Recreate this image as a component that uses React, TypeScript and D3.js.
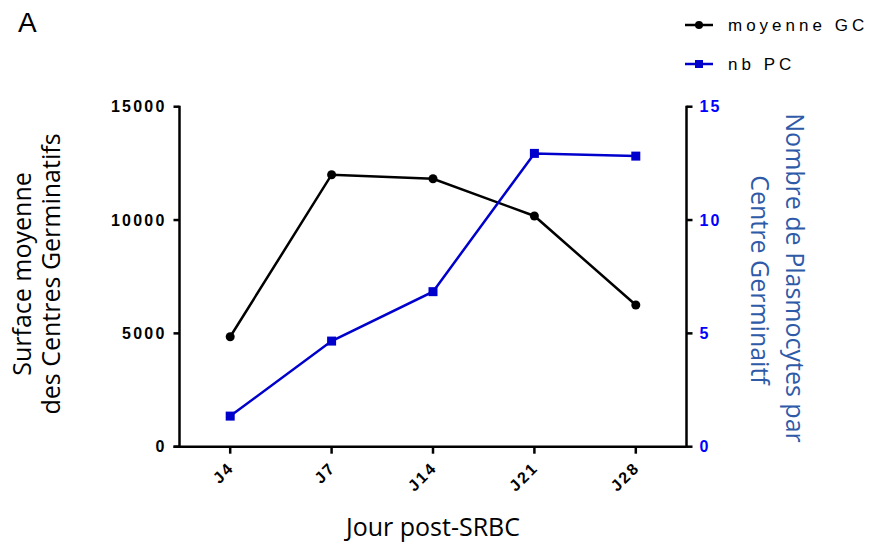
import React from "react";
import * as d3 from "d3";

const categories = ["J4", "J7", "J14", "J21", "J28"];
const surfaceGC = [4850, 12000, 11820, 10180, 6250];
const nbPC = [1.35, 4.66, 6.84, 12.94, 12.82];
const leftTicks = [0, 5000, 10000, 15000];
const rightTicks = [0, 5, 10, 15];
const seriesNames = ["moyenne GC", "nb PC"];

const W = 873;
const H = 548;
const xLeft = 179.5;
const xRight = 686.5;
const yBottom = 446.7;
const yTop = 106.7;

const BLUE_LINE = "#0000cc";
const BLUE_TEXT = "#0000ff";
const TITLE_BLUE = "#2e5aa8";
const titleFont = "'Open Sans', sans-serif";
const tickFont = "'Liberation Sans', Arial, sans-serif";

export default function App() {
  const x = d3.scalePoint<string>().domain(categories).range([xLeft, xRight]).padding(0.5);
  const yL = d3.scaleLinear().domain([0, 15000]).range([yBottom, yTop]);
  const yR = d3.scaleLinear().domain([0, 15]).range([yBottom, yTop]);

  const lineL = d3
    .line<number>()
    .x((_, i) => x(categories[i]) as number)
    .y((d) => yL(d));
  const lineR = d3
    .line<number>()
    .x((_, i) => x(categories[i]) as number)
    .y((d) => yR(d));

  return (
    <svg
      width={W}
      height={H}
      style={{ position: "absolute", left: 0, top: 0, background: "#fff" }}
    >
      <rect x={0} y={0} width={W} height={H} fill="#fff" />
      <text x={18} y={32} fontFamily="'Liberation Sans', Arial, sans-serif" fontSize={28} fill="#000">
        A
      </text>

      {/* axes */}
      <g stroke="#000" strokeWidth={2.5} fill="none">
        <line x1={xLeft} y1={yTop - 1} x2={xLeft} y2={yBottom + 1} />
        <line x1={xRight} y1={yTop - 1} x2={xRight} y2={yBottom + 1} />
        <line x1={xLeft - 6} y1={yBottom} x2={xRight} y2={yBottom} />
      </g>

      {/* left ticks */}
      {leftTicks.map((t) => (
        <g key={"l" + t}>
          <line x1={xLeft - 6} x2={xLeft} y1={yL(t)} y2={yL(t)} stroke="#000" strokeWidth={2.5} />
          <text
            x={xLeft - 13}
            y={yL(t)}
            dy="0.36em"
            textAnchor="end"
            fontFamily={tickFont}
            fontWeight="bold"
            fontSize={16}
            letterSpacing={2.2}
            fill="#000"
          >
            {t}
          </text>
        </g>
      ))}

      {/* right ticks */}
      {rightTicks.map((t) => (
        <g key={"r" + t}>
          <line x1={xRight} x2={xRight + 6} y1={yR(t)} y2={yR(t)} stroke="#000" strokeWidth={2.5} />
          <text
            x={xRight + 13}
            y={yR(t)}
            dy="0.36em"
            textAnchor="start"
            fontFamily={tickFont}
            fontWeight="bold"
            fontSize={16}
            letterSpacing={2.2}
            fill={BLUE_TEXT}
          >
            {t}
          </text>
        </g>
      ))}

      {/* x ticks */}
      {categories.map((c) => {
        const cx = x(c) as number;
        return (
          <g key={"x" + c}>
            <line x1={cx} x2={cx} y1={yBottom} y2={yBottom + 7} stroke="#000" strokeWidth={2.5} />
            <text
              transform={`translate(${cx + 5},${yBottom + 22}) rotate(-45)`}
              textAnchor="end"
              fontFamily={tickFont}
              fontWeight="bold"
              fontSize={16}
              letterSpacing={2.2}
              fill="#000"
            >
              {c}
            </text>
          </g>
        );
      })}

      {/* series */}
      <path d={lineL(surfaceGC) || ""} fill="none" stroke="#000" strokeWidth={2.5} />
      {surfaceGC.map((v, i) => (
        <circle key={"c" + i} cx={x(categories[i]) as number} cy={yL(v)} r={4.5} fill="#000" />
      ))}
      <path d={lineR(nbPC) || ""} fill="none" stroke={BLUE_LINE} strokeWidth={2.5} />
      {nbPC.map((v, i) => (
        <rect
          key={"s" + i}
          x={(x(categories[i]) as number) - 4.5}
          y={yR(v) - 4.5}
          width={9}
          height={9}
          fill={BLUE_LINE}
        />
      ))}

      {/* titles */}
      <text
        x={(xLeft + xRight) / 2}
        y={536}
        textAnchor="middle"
        fontFamily={titleFont}
        fontSize={25}
        fill="#000"
      >
        Jour post-SRBC
      </text>
      <text transform={`translate(31,274) rotate(-90)`} textAnchor="middle" fontFamily={titleFont} fontSize={25} fill="#000">
        Surface moyenne
      </text>
      <text transform={`translate(60,274) rotate(-90)`} textAnchor="middle" fontFamily={titleFont} fontSize={25} fill="#000">
        des Centres Germinatifs
      </text>
      <text transform={`translate(786,278) rotate(90)`} textAnchor="middle" fontFamily={titleFont} fontSize={25} fill={TITLE_BLUE}>
        Nombre de Plasmocytes par
      </text>
      <text transform={`translate(751,280) rotate(90)`} textAnchor="middle" fontFamily={titleFont} fontSize={25} fill={TITLE_BLUE}>
        Centre Germinaitf
      </text>

      {/* legend */}
      <g>
        <line x1={685} x2={713} y1={25} y2={25} stroke="#000" strokeWidth={2.5} />
        <circle cx={699} cy={25} r={4} fill="#000" />
        <text x={728} y={25} dy="0.36em" fontFamily={tickFont} fontSize={17} letterSpacing={4} fill="#000">
          {seriesNames[0]}
        </text>
        <line x1={685} x2={713} y1={64} y2={64} stroke={BLUE_LINE} strokeWidth={2.5} />
        <rect x={695} y={60} width={8} height={8} fill={BLUE_LINE} />
        <text x={728} y={64} dy="0.36em" fontFamily={tickFont} fontSize={17} letterSpacing={4} fill="#000">
          {seriesNames[1]}
        </text>
      </g>
    </svg>
  );
}
